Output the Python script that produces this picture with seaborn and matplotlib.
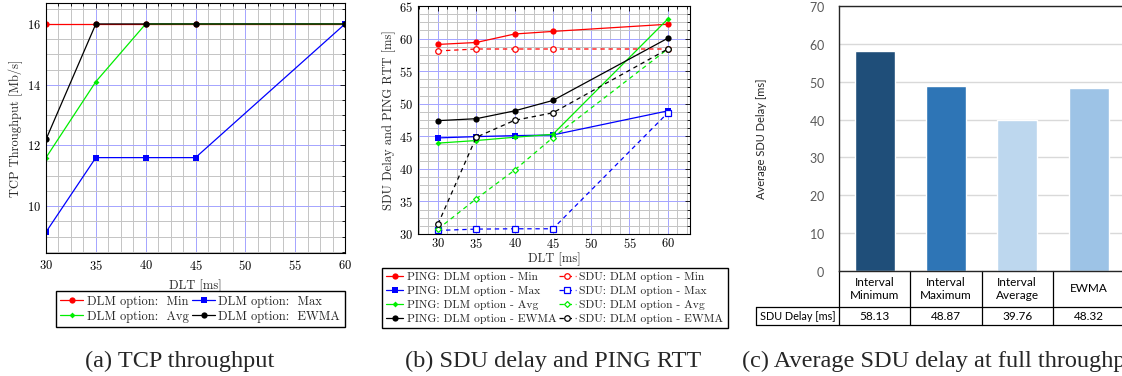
import numpy as np
import pandas as pd
import matplotlib
matplotlib.use("Agg")
import matplotlib.pyplot as plt
import matplotlib.transforms as mtransforms
from matplotlib.ticker import MultipleLocator
import seaborn as sns

# ---------------- data ----------------
dlt = [30, 35, 40, 45, 60]

# (a) TCP throughput [Mb/s]
tput_min = [16, 16, 16, 16, 16]
tput_max = [9.15, 11.6, 11.6, 11.6, 16]
tput_avg = [11.6, 14.1, 16, 16, 16]
tput_ewma = [12.2, 16, 16, 16, 16]

# (b) SDU delay and PING RTT [ms]
ping_min = [59.1, 59.4, 60.7, 61.1, 62.2]
ping_max = [44.75, 44.95, 45.1, 45.2, 48.9]
ping_avg = [43.95, 44.35, 44.85, 45.3, 63.0]
ping_ewma = [47.4, 47.7, 48.9, 50.5, 60.05]
sdu_min = [58.1, 58.4, 58.4, 58.4, 58.4]
sdu_max = [30.55, 30.75, 30.8, 30.8, 48.6]
sdu_avg = [30.75, 35.4, 39.8, 44.8, 58.4]
sdu_ewma = [31.5, 44.85, 47.45, 48.6, 58.4]

# (c) Average SDU delay at full throughput
opt_labels = ["Interval\nMinimum", "Interval\nMaximum", "Interval\nAverage", "EWMA"]
opt_delay = [58.13, 48.87, 39.76, 48.32]
bar_colors = ["#1F4E79", "#2E75B6", "#BDD7EE", "#9DC3E6"]

# ---------------- style ----------------
sns.set_style("white")
plt.rcParams["font.family"] = ["cmr10", "DejaVu Serif"]
plt.rcParams["mathtext.fontset"] = "cm"
plt.rcParams["axes.unicode_minus"] = False
plt.rcParams["axes.formatter.use_mathtext"] = True

W, H = 1122, 376
fig = plt.figure(figsize=(W / 100, H / 100), dpi=100)
fig.patch.set_facecolor("white")


def px_axes(l, t, r, b):
    return fig.add_axes([l / W, 1 - b / H, (r - l) / W, (b - t) / H])


def pgf_style(ax, xmaj, xmin, ymaj, ymin, xpad=4):
    ax.xaxis.set_major_locator(MultipleLocator(xmaj))
    ax.xaxis.set_minor_locator(MultipleLocator(xmin))
    ax.yaxis.set_major_locator(MultipleLocator(ymaj))
    ax.yaxis.set_minor_locator(MultipleLocator(ymin))
    ax.grid(which="minor", color="#c4c4c4", lw=0.7)
    ax.grid(which="major", color="#a4a4ff", lw=0.7)
    ax.set_axisbelow(True)
    ax.tick_params(which="both", direction="in", top=True, right=True,
                   colors="black", width=0.6, labelsize=9)
    ax.tick_params(which="major", length=3.5)
    ax.tick_params(which="minor", length=2)
    ax.tick_params(axis="x", pad=xpad)
    ax.tick_params(axis="y", pad=3.5)
    for sp in ax.spines.values():
        sp.set_visible(True)
        sp.set_color("black")
        sp.set_linewidth(0.8)
        sp.set_zorder(5)


lw = 0.9

# ---------------- (a) ----------------
axa = px_axes(46, 3, 345, 253)
sns.lineplot(x=dlt, y=tput_min, ax=axa, color="#ff0000", marker="o", markersize=4.5,
             markeredgewidth=0, lw=lw, label="DLM option:  Min")
sns.lineplot(x=dlt, y=tput_max, ax=axa, color="#0000ff", marker="s", markersize=4.5,
             markeredgewidth=0, lw=lw, label="DLM option:  Max")
sns.lineplot(x=dlt, y=tput_avg, ax=axa, color="#00ee00", marker="D", markersize=3,
             markeredgewidth=0, lw=lw, label="DLM option:  Avg")
sns.lineplot(x=dlt, y=tput_ewma, ax=axa, color="black", marker="o", markersize=4.5,
             markeredgewidth=0, lw=lw, label="DLM option:  EWMA")
axa.set_xlim(30, 60)
axa.set_ylim(8.46, 16.69)
pgf_style(axa, 5, 1.25, 2, 0.5)
axa.set_xlabel("DLT [ms]", fontsize=9, labelpad=5)
axa.set_ylabel("TCP Throughput [Mb/s]", fontsize=9, labelpad=3)
h, l = axa.get_legend_handles_labels()
axa.get_legend().remove()
order = [0, 2, 1, 3]
fig.legend([h[i] for i in order], [l[i] for i in order], ncol=2,
           loc="upper left", bbox_to_anchor=(56 / W, 1 - 291 / H),
           frameon=True, fancybox=False, edgecolor="black", framealpha=1,
           fontsize=9, handlelength=1.8, handletextpad=0.3, columnspacing=0.3,
           labelspacing=0.25, borderpad=0.35, borderaxespad=0)

# ---------------- (b) ----------------
axb = px_axes(418, 6, 690, 234)
series_b = [
    (ping_min, "#ff0000", "o", "-", "PING: DLM option - Min"),
    (ping_max, "#0000ff", "s", "-", "PING: DLM option - Max"),
    (ping_avg, "#00ee00", "D", "-", "PING: DLM option - Avg"),
    (ping_ewma, "black", "o", "-", "PING: DLM option - EWMA"),
    (sdu_min, "#ff0000", "o", "--", "SDU: DLM option - Min"),
    (sdu_max, "#0000ff", "s", "--", "SDU: DLM option - Max"),
    (sdu_avg, "#00ee00", "D", "--", "SDU: DLM option - Avg"),
    (sdu_ewma, "black", "o", "--", "SDU: DLM option - EWMA"),
]
for vals, col, mk, ls, lab in series_b:
    if ls == "-":
        sns.lineplot(x=dlt, y=vals, ax=axb, color=col, marker=mk,
                     markersize=4.5 if mk != "D" else 3, markeredgewidth=0,
                     lw=lw, label=lab)
    else:
        sns.lineplot(x=dlt, y=vals, ax=axb, color=col, marker=mk,
                     markersize=4 if mk != "D" else 3, markerfacecolor="white",
                     markeredgecolor=col, markeredgewidth=0.9,
                     lw=lw, linestyle=(0, (3.5, 3)), label=lab)
axb.set_xlim(27.4, 62.9)
axb.set_ylim(30, 65)
pgf_style(axb, 5, 1.25, 5, 1.25, xpad=2.5)
axb.set_xlabel("DLT [ms]", fontsize=9, labelpad=1)
axb.set_ylabel("SDU Delay and PING RTT [ms]", fontsize=9, labelpad=2)
hb, lb = axb.get_legend_handles_labels()
axb.get_legend().remove()
fig.legend(hb, lb, ncol=2, loc="upper left", bbox_to_anchor=(382 / W, 1 - 268 / H),
           frameon=True, fancybox=False, edgecolor="black", framealpha=1,
           fontsize=8.3, handlelength=1.5, handletextpad=0.3, columnspacing=0.2,
           labelspacing=0.35, borderpad=0.35, borderaxespad=0)

# ---------------- (c) ----------------
sans = "Lato"
axc = px_axes(839, 6, 839 + 4 * 71.3, 271)
dfc = pd.DataFrame({"opt": opt_labels, "delay": opt_delay})
sns.barplot(data=dfc, x="opt", y="delay", hue="opt", palette=bar_colors,
            legend=False, width=0.56, ax=axc, saturation=1)
axc.set_xlim(-0.5, 3.5)
axc.set_ylim(0, 70)
axc.yaxis.set_major_locator(MultipleLocator(10))
axc.grid(axis="y", color="#d9d9d9", lw=1.0)
axc.set_axisbelow(True)
axc.set_xlabel("")
axc.set_xticks([])
axc.set_ylabel("Average SDU Delay [ms]", fontsize=8, family=sans, color="#262626",
               labelpad=30)
axc.tick_params(axis="y", length=0, pad=10, labelsize=9, colors="#595959")
for t in axc.get_yticklabels():
    t.set_fontfamily(sans)
for side in ["left", "top", "bottom"]:
    axc.spines[side].set_visible(True)
    axc.spines[side].set_color("#262626")
    axc.spines[side].set_linewidth(1.0)
axc.spines["right"].set_visible(False)

# data table below the bars
tr = mtransforms.blended_transform_factory(axc.transData, axc.transAxes)
axh = 265.0
y_mid = -36 / axh
y_bot = -54 / axh
x_left = -0.5 - (839 - 756) / 71.3
lkw = dict(transform=tr, color="black", lw=0.9, clip_on=False)
axc.plot([-0.5, 3.6], [y_mid, y_mid], **lkw)
axc.plot([x_left, -0.5], [y_mid, y_mid], **lkw)
axc.plot([x_left, 3.6], [y_bot, y_bot], **lkw)
axc.plot([x_left, x_left], [y_mid, y_bot], **lkw)
for xb in np.arange(len(opt_labels) + 1) - 0.5:
    axc.plot([xb, xb], [0, y_bot], **lkw)
for i, (lab, v) in enumerate(zip(opt_labels, opt_delay)):
    axc.text(i, y_mid / 2, lab, transform=tr, ha="center", va="center",
             fontsize=8.5, family=sans, color="black", linespacing=1.15)
    axc.text(i, (y_mid + y_bot) / 2, f"{v:.2f}", transform=tr, ha="center",
             va="center", fontsize=8.5, family=sans, color="black")
axc.text((x_left - 0.5) / 2, (y_mid + y_bot) / 2, "SDU Delay [ms]", transform=tr,
         ha="center", va="center", fontsize=7.8, family=sans, color="black")

# ---------------- captions ----------------
cap = dict(fontsize=17.5, family=["Liberation Serif", "DejaVu Serif"], va="baseline")
fig.text(180 / W, 1 - 367 / H, "(a) TCP throughput", ha="center", **cap)
fig.text(553 / W, 1 - 367 / H, "(b) SDU delay and PING RTT", ha="center", **cap)
fig.text(742 / W, 1 - 367 / H, "(c) Average SDU delay at full throughput", ha="left", **cap)

fig.savefig("out.png", dpi=100, facecolor="white")
